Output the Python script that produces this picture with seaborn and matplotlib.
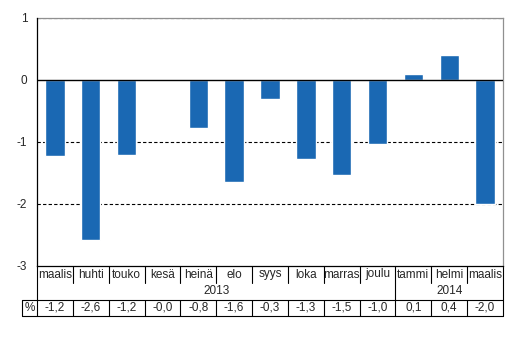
import matplotlib
matplotlib.use('Agg')
import matplotlib.pyplot as plt
import matplotlib.transforms as mtransforms
import seaborn as sns

months = ['maalis', 'huhti', 'touko', 'kesä', 'heinä', 'elo', 'syys',
          'loka', 'marras', 'joulu', 'tammi', 'helmi', 'maalis']
values = [-1.23, -2.58, -1.21, 0.0, -0.77, -1.65, -0.3,
          -1.28, -1.53, -1.03, 0.1, 0.4, -2.0]
labels = ['-1,2', '-2,6', '-1,2', '-0,0', '-0,8', '-1,6', '-0,3',
          '-1,3', '-1,5', '-1,0', '0,1', '0,4', '-2,0']
years = ['2013', '2014']
year_span = [(0, 9), (10, 12)]

sns.set_style('white')
plt.rcParams['font.family'] = ['Liberation Sans', 'DejaVu Sans']
plt.rcParams['axes.unicode_minus'] = False

fig = plt.figure(figsize=(5.26, 3.62), dpi=100)
W, H = 526, 362
x0, x1, ytop, ybot = 37, 503, 18, 266
ax = fig.add_axes([x0 / W, 1 - ybot / H, (x1 - x0) / W, (ybot - ytop) / H])

sns.barplot(x=list(range(len(values))), y=values, color='#1a68b3',
            saturation=1, width=0.54, ax=ax)
ax.set_xlim(-0.5, len(values) - 0.5)
ax.set_ylim(-3, 1)
ax.set_yticks([1, 0, -1, -2, -3])
ax.set_yticklabels(['1', '0', '-1', '-2', '-3'], fontsize=8.5)
ax.set_xticks([])
ax.tick_params(axis='y', direction='out', length=4, width=0.8, color='black', pad=3)
for y in [1, -1, -2]:
    ax.axhline(y, color='black', lw=0.8, ls=(0, (3, 2)), zorder=0)
ax.axhline(0, color='black', lw=1, zorder=3)
ax.spines['left'].set_color('black')
ax.spines['bottom'].set_color('black')
ax.spines['top'].set_color('#909090')
ax.spines['right'].set_color('#909090')
for s in ax.spines.values():
    s.set_linewidth(0.9)
ax.spines['top'].set_zorder(0.5)

# table under the chart, y in pixels below the axes bottom
ph = ybot - ytop
def fy(px):
    return -(px - ybot) / ph
tr = mtransforms.blended_transform_factory(ax.transData, ax.transAxes)
lk = dict(color='black', lw=0.8, clip_on=False, transform=tr)
n = len(values)
r_month, r_year, r_val, r_end = 266, 283, 300, 316

for i in range(n + 1):
    xe = i - 0.5
    ax.plot([xe, xe], [fy(r_month), fy(r_year)], **lk)
    ax.plot([xe, xe], [fy(r_val), fy(r_end)], **lk)
for xe in [-0.5, 9.5, n - 0.5]:
    ax.plot([xe, xe], [fy(r_year), fy(r_val)], **lk)
xl = -0.5 - (x0 - 22) / ((x1 - x0) / n)
ax.plot([xl, n - 0.5], [fy(r_val)] * 2, **lk)
ax.plot([xl, n - 0.5], [fy(r_end)] * 2, **lk)
ax.plot([xl, xl], [fy(r_val), fy(r_end)], **lk)

fs = 8.5
for i, m in enumerate(months):
    ax.text(i, fy((r_month + r_year) / 2), m, ha='center', va='center',
            fontsize=fs, transform=tr, clip_on=False)
    ax.text(i, fy((r_val + r_end) / 2), labels[i], ha='center', va='center',
            fontsize=fs, transform=tr, clip_on=False)
for yl, (a, b) in zip(years, year_span):
    ax.text((a + b) / 2, fy((r_year + r_val) / 2), yl, ha='center', va='center',
            fontsize=fs, transform=tr, clip_on=False)
ax.text((xl - 0.5) / 2, fy((r_val + r_end) / 2), '%', ha='center', va='center',
        fontsize=fs, transform=tr, clip_on=False)

fig.savefig('out.png', dpi=100)
